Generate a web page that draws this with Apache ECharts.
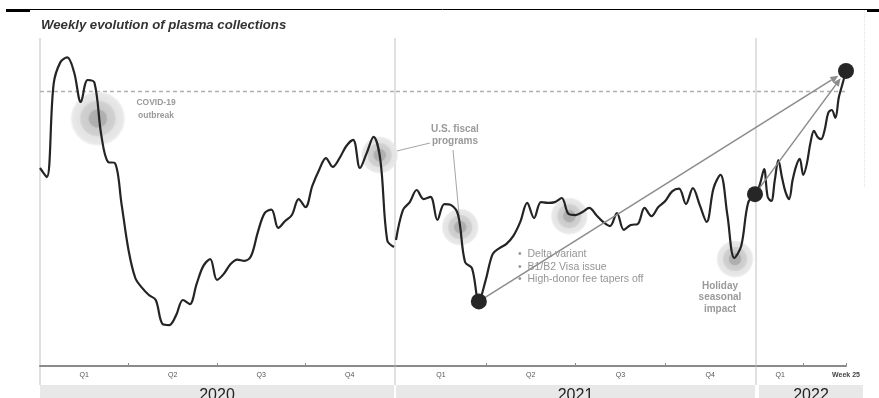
<!DOCTYPE html>
<html><head><meta charset="utf-8">
<script src="https://cdn.jsdelivr.net/npm/echarts@6/dist/echarts.min.js"></script>
<style>html,body{margin:0;padding:0;background:#fff}#c{width:879px;height:398px}</style>
</head><body><div id="c"></div>
<script>
const chartTitle = 'Weekly evolution of plasma collections';
const years = ['2020', '2021', '2022'];
const quarterLabels = ['Q1', 'Q2', 'Q3', 'Q4'];
const quarterLabelWeeks = [6.5, 19.5, 32.5, 45.5];
const quarterTickWeeks = [13, 26, 39];
const labels2022 = ['Q1', 'Week 25'];
const labelWeeks2022 = [6.5, 25];
const tickWeeks2022 = [13, 25];
const preCovidLevel = 100;

// weekly collections index (week 0..52 per year, 2022 up to week 25)
const values2020 = [72.0, 68.7, 102.5, 110.5, 112.2, 106.9, 96.0, 104.0, 103.0, 84.0, 74.2, 73.8, 58.5, 42.2, 32.0, 28.4, 25.8, 24.0, 15.3, 14.9, 18.5, 24.0, 22.5, 29.8, 36.4, 38.9, 31.3, 33.5, 37.1, 38.7, 38.2, 40.0, 48.7, 55.6, 56.9, 50.2, 52.7, 54.9, 60.7, 57.8, 65.5, 71.3, 75.6, 72.4, 75.6, 80.0, 82.2, 72.0, 77.5, 83.3, 74.9, 45.8, 43.3];
const values2021 = [45.8, 56.7, 59.6, 64.0, 60.7, 61.5, 53.1, 58.9, 58.5, 54.9, 37.8, 35.6, 23.5, 31.3, 40.7, 42.9, 44.4, 47.3, 52.4, 59.3, 53.8, 59.6, 59.3, 59.6, 61.1, 55.3, 54.9, 56.0, 57.5, 54.9, 52.4, 50.9, 55.6, 49.5, 51.3, 51.6, 57.5, 54.5, 57.8, 60.0, 63.5, 64.5, 58.9, 64.7, 58.5, 52.4, 64.7, 69.5, 54.9, 39.3, 43.6, 59.3, 62.5];
const values2022 = [62.5, 66.9, 71.6, 61.5, 60.0, 67.6, 74.9, 68.7, 63.3, 60.7, 67.6, 72.7, 75.3, 69.5, 73.5, 81.1, 85.5, 83.3, 82.5, 85.8, 92.0, 93.1, 90.2, 97.8, 102.5, 107.3];

// annotation anchors [week, value]
const halos2020 = [[8.5, 90.0], [49.9, 76.7]];
const halos2021 = [[9.3, 50.5], [25.1, 54.5], [49.1, 38.9]];
const dotWeeks2021 = [12, 52];
const dotWeeks2022 = [25];
const covidText = 'COVID-19\noutbreak';
const fiscalText = 'U.S. fiscal\nprograms';
const deltaText = '•  Delta variant\n•  B1/B2 Visa issue\n•  High-donor fee tapers off';
const holidayText = 'Holiday\nseasonal\nimpact';

const FONT = '"Liberation Sans", Arial, Helvetica, sans-serif';
const chart = echarts.init(document.getElementById('c'), null, {renderer: 'canvas'});

const panels = [
  {vals: values2020, max: 52, ticks: quarterTickWeeks, lpos: quarterLabelWeeks, labs: quarterLabels, halos: halos2020, dots: []},
  {vals: values2021, max: 52, ticks: quarterTickWeeks, lpos: quarterLabelWeeks, labs: quarterLabels, halos: halos2021, dots: dotWeeks2021},
  {vals: values2022, max: 25, ticks: tickWeeks2022, lpos: labelWeeks2022, labs: labels2022, halos: [], dots: dotWeeks2022}
];
const gridBoxes = [{left: 40, width: 354}, {left: 396, width: 359}, {left: 757, width: 89}];

const haloColor = {type: 'radial', x: 0.5, y: 0.5, r: 0.5, colorStops: [
  {offset: 0, color: '#a2a2a2'}, {offset: 0.3, color: '#a8a8a8'}, {offset: 0.35, color: '#c5c5c5'},
  {offset: 0.6, color: '#cccccc'}, {offset: 0.66, color: '#e0e0e0'}, {offset: 0.9, color: '#e6e6e6'},
  {offset: 1, color: 'rgba(232,232,232,0)'}]};

const option = {
  animation: false,
  backgroundColor: '#fff',
  grid: gridBoxes.map(g => ({left: g.left, width: g.width, top: 36, height: 330, containLabel: false})),
  xAxis: panels.map((p, i) => ({
    type: 'value', gridIndex: i, min: 0, max: p.max,
    axisLine: {show: true, lineStyle: {color: '#8a8a8a', width: 2}},
    axisTick: {show: true, customValues: p.ticks, length: 3, inside: true, lineStyle: {color: '#8a8a8a', width: 1}},
    axisLabel: {show: true, customValues: p.lpos, margin: 6, fontSize: 7, color: '#555', fontFamily: FONT,
      formatter: v => { const l = p.labs[p.lpos.indexOf(v)]; return l === 'Week 25' ? '{b|' + l + '}' : l; },
      rich: {b: {fontSize: 7, fontWeight: 'bold', color: '#444', fontFamily: FONT}}},
    splitLine: {show: false}
  })),
  yAxis: panels.map((p, i) => ({type: 'value', gridIndex: i, min: 0, max: 120, show: false})),
  series: []
};
panels.forEach((p, i) => {
  option.series.push({
    type: 'line', xAxisIndex: i, yAxisIndex: i, z: 3,
    data: p.vals.map((v, w) => [w, v]), smooth: 0.35, symbol: 'none',
    lineStyle: {color: '#242424', width: 2.2},
    markLine: {silent: true, symbol: 'none', label: {show: false}, z: 1,
      lineStyle: {type: [4, 3], color: '#b0b0b0', width: 1.3}, data: [{yAxis: preCovidLevel}]}
  });
  if (p.halos.length) option.series.push({
    type: 'scatter', xAxisIndex: i, yAxisIndex: i, z: 1, silent: true,
    data: p.halos, symbolSize: (v, prm) => (i === 0 && prm.dataIndex === 0) ? 56 : 38,
    itemStyle: {color: haloColor, opacity: 0.9}
  });
  if (p.dots.length) option.series.push({
    type: 'scatter', xAxisIndex: i, yAxisIndex: i, z: 6, silent: true,
    data: p.dots.map(w => [w, p.vals[w]]), symbolSize: 16,
    itemStyle: {color: '#262626', opacity: 1}
  });
});
chart.setOption(option);

function px(g, pt) { return chart.convertToPixel({gridIndex: g}, pt); }
function arrow(S, T, back) {
  const dx = T[0] - S[0], dy = T[1] - S[1], L = Math.hypot(dx, dy), ux = dx / L, uy = dy / L;
  const tip = [T[0] - ux * back, T[1] - uy * back];
  const base = [tip[0] - ux * 8, tip[1] - uy * 8];
  const nx = -uy, ny = ux;
  return [
    {type: 'line', z: 4, shape: {x1: S[0], y1: S[1], x2: base[0], y2: base[1]}, style: {stroke: '#8c8c8c', lineWidth: 1.5}},
    {type: 'polygon', z: 4, shape: {points: [tip, [base[0] + nx * 3.5, base[1] + ny * 3.5], [base[0] - nx * 3.5, base[1] - ny * 3.5]]}, style: {fill: '#8c8c8c'}}
  ];
}
const A = px(1, [dotWeeks2021[0], values2021[dotWeeks2021[0]]]);
const B = px(1, [dotWeeks2021[1], values2021[dotWeeks2021[1]]]);
const E = px(2, [dotWeeks2022[0], values2022[dotWeeks2022[0]]]);
const H0 = px(0, halos2020[1]);
const H1 = px(1, halos2021[0]);
function edge(from, c, r) { const dx = from[0] - c[0], dy = from[1] - c[1], L = Math.hypot(dx, dy); return [c[0] + dx / L * r, c[1] + dy / L * r]; }
const f1 = [430, 143], e1 = edge(f1, H0, 18);
const f2 = [453, 150];

const txt = (text, x, y, o) => Object.assign({type: 'text', z: 7, x: x, y: y, style: Object.assign({text: text, fontFamily: FONT, fill: '#9a9a9a', fontSize: 10, fontWeight: 'bold', align: 'center', verticalAlign: 'top'}, o || {})});
const yearBands = [[40, 394], [396, 755], [759, 863]];
const graphic = [
  {type: 'line', z: 0, shape: {x1: 6, y1: 9.5, x2: 879, y2: 9.5}, style: {stroke: '#000', lineWidth: 1}},
  {type: 'rect', z: 0, shape: {x: 6, y: 9, width: 24, height: 3}, style: {fill: '#000'}},
  {type: 'rect', z: 0, shape: {x: 867, y: 9, width: 12, height: 3}, style: {fill: '#000'}},
  {type: 'line', z: 0, shape: {x1: 864.5, y1: 10, x2: 864.5, y2: 187}, style: {stroke: '#e2e2e2', lineWidth: 1, lineDash: [1, 1]}},
  {type: 'text', z: 7, x: 41, y: 25, style: {text: chartTitle, fontFamily: FONT, fontSize: 13.2, fontWeight: 'bold', fontStyle: 'italic', fill: '#333', align: 'left', verticalAlign: 'middle'}}
];
[40, 395, 756].forEach(x => graphic.push({type: 'line', z: 0, shape: {x1: x, y1: 38, x2: x, y2: 385}, style: {stroke: '#d6d6d6', lineWidth: 1.5}}));
yearBands.forEach((b, i) => {
  graphic.push({type: 'rect', z: 0, shape: {x: b[0], y: 385, width: b[1] - b[0], height: 13}, style: {fill: '#e8e8e8'}});
  graphic.push({type: 'text', z: 7, x: (b[0] + b[1]) / 2, y: 387.5, style: {text: years[i], fontFamily: FONT, fontSize: 16, fill: '#222', align: 'center', verticalAlign: 'top'}});
});
graphic.push(...arrow(A, E, 9), ...arrow(B, E, 9));
graphic.push({type: 'line', z: 2, shape: {x1: f1[0], y1: f1[1], x2: e1[0], y2: e1[1]}, style: {stroke: '#a5a5a5', lineWidth: 1}});
graphic.push({type: 'line', z: 2, shape: {x1: f2[0], y1: f2[1], x2: H1[0], y2: H1[1]}, style: {stroke: '#a5a5a5', lineWidth: 1}});
graphic.push(txt(covidText, 156, 96, {fontSize: 8.5, lineHeight: 13}));
graphic.push(txt(fiscalText, 455, 123, {lineHeight: 12}));
graphic.push(txt(deltaText, 518, 248, {fontWeight: 'normal', fontSize: 10.5, align: 'left', lineHeight: 12.5, fill: '#959595'}));
graphic.push(txt(holidayText, 720, 280, {lineHeight: 11.5}));
chart.setOption({graphic: graphic});
</script>
</body></html>
